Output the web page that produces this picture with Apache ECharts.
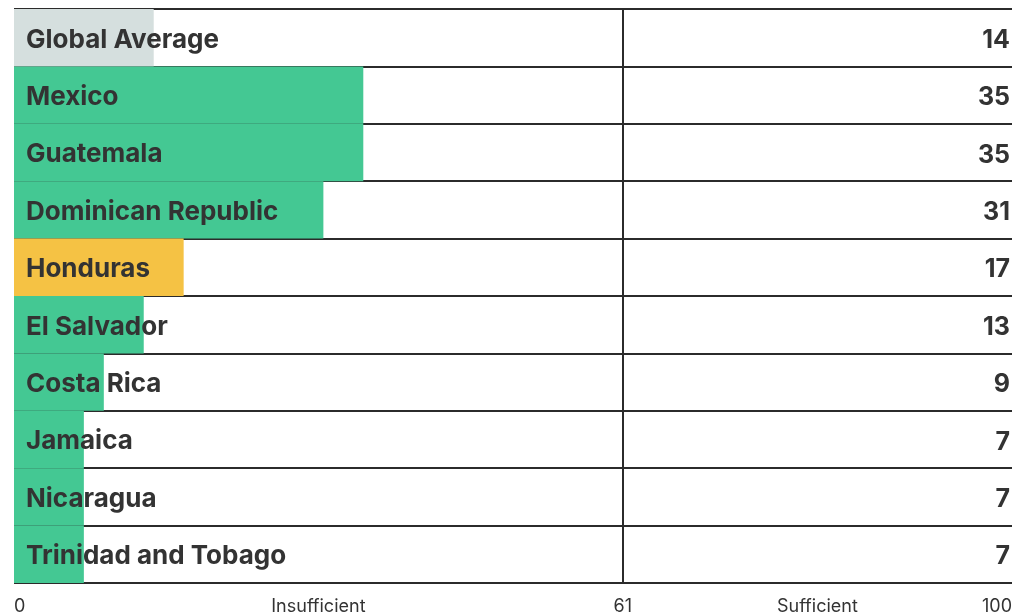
<!DOCTYPE html>
<html>
<head>
<meta charset="utf-8">
<script src="https://cdn.jsdelivr.net/npm/echarts@6/dist/echarts.min.js"></script>
<style>
html,body{margin:0;padding:0;background:#fff;}
#main{width:1025px;height:616px;}
</style>
</head>
<body>
<div id="main"></div>
<script>
const categories = ["Global Average","Mexico","Guatemala","Dominican Republic","Honduras","El Salvador","Costa Rica","Jamaica","Nicaragua","Trinidad and Tobago"];
const values = [14,35,35,31,17,13,9,7,7,7];
const barColors = ["#d5dfde","#44c893","#44c893","#44c893","#f5c244","#44c893","#44c893","#44c893","#44c893","#44c893"];
const threshold = 61;
const tickValues = [0,30.5,61,80.5,100];
const tickLabels = ["0","Insufficient","61","Sufficient","100"];

const FONT = "Inter";
const chart = echarts.init(document.getElementById('main'), null, {renderer:'canvas'});
chart.setOption({
  animation:false,
  grid:{left:14,right:13,top:9,bottom:33,containLabel:false},
  xAxis:{
    type:'value',min:0,max:100,
    axisLine:{show:false},axisTick:{show:false},splitLine:{show:false},
    axisLabel:{
      customValues:tickValues,
      formatter:function(v){const i=tickValues.indexOf(v);return i>=0?tickLabels[i]:'';},
      color:'#333',fontSize:18,fontFamily:FONT,margin:15,
      alignMinLabel:'left',alignMaxLabel:'right'
    }
  },
  yAxis:[{
    type:'category',inverse:true,data:categories,
    axisLine:{show:false},axisTick:{show:false},axisLabel:{show:false},
    splitLine:{show:true,interval:0,lineStyle:{color:'#2b2b2b',width:2}}
  },{
    type:'category',inverse:true,position:'right',data:values.map(String),
    axisLine:{show:false},axisTick:{show:false},splitLine:{show:false},
    axisLabel:{inside:true,margin:2,formatter:'{v|{value}}',
      rich:{v:{color:'#333',fontSize:25,fontWeight:'bold',fontFamily:FONT,padding:[5,0,0,0]}}}
  }],
  series:[{
    type:'bar',
    yAxisIndex:0,
    barCategoryGap:0,
    data:values.map((v,i)=>({value:v,itemStyle:{color:barColors[i]}})),
    label:{show:true,position:'insideLeft',distance:12,offset:[0,2],formatter:'{b}',color:'#333',fontSize:26,fontWeight:'bold',fontFamily:FONT},
    markLine:{
      silent:true,symbol:'none',label:{show:false},
      lineStyle:{color:'#2b2b2b',width:2,type:'solid'},
      data:[{xAxis:threshold}]
    }
  }]
});
</script>
</body>
</html>
